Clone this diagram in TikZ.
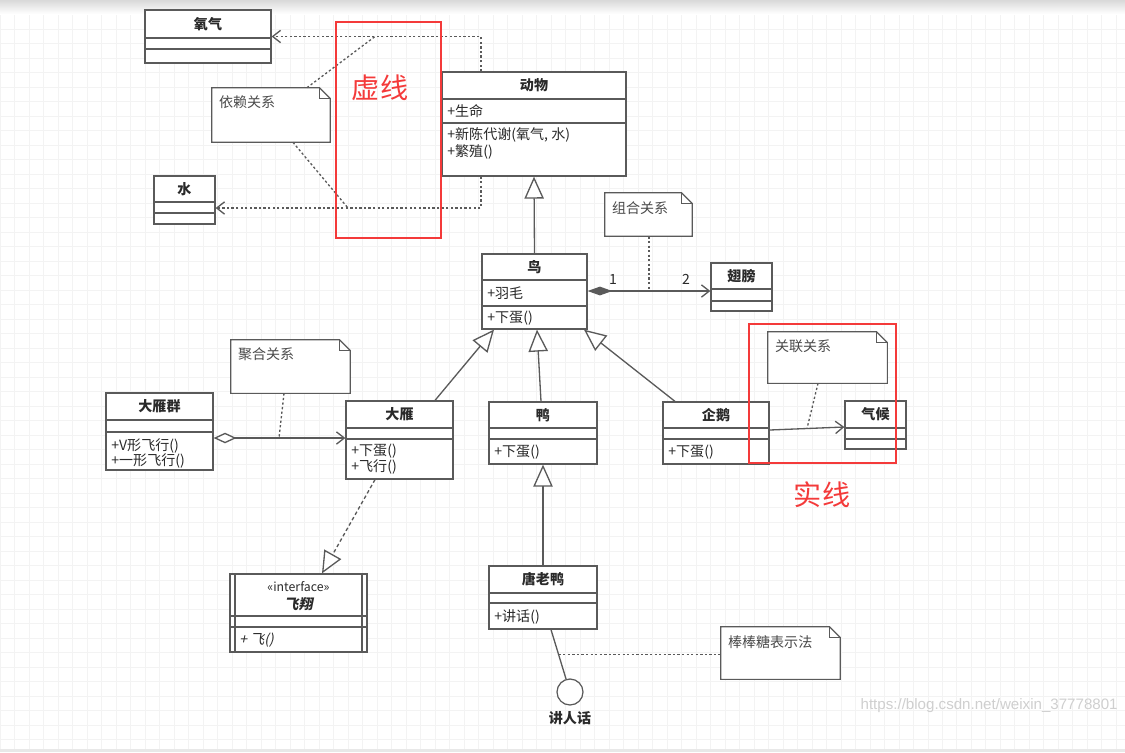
\documentclass[tikz,border=0pt]{standalone}
\usepackage{fontspec}
\setmainfont{Noto Sans CJK SC}
\newfontfamily\cjksl[FakeSlant=0.2]{Noto Sans CJK SC}
\newfontfamily\wmfont{Liberation Sans}
\usetikzlibrary{arrows.meta,calc,fit,shadows}
\definecolor{linec}{HTML}{5A5A5A}
\definecolor{txtc}{HTML}{2A2A2A}
\definecolor{notetxt}{HTML}{4A4A4A}
\definecolor{redc}{HTML}{F43A3A}
\definecolor{gridc}{HTML}{F3F3F3}

\newcommand\umlcls[8]{%
  \node[clsbox, fit={(#2,#3) (#4,#5)}] (#1) {};
  \draw[clsline] (#2,#6) -- (#4,#6) (#2,#7) -- (#4,#7);
  \node[clstitle] (#1-t) at ($(#2,#3)!0.5!(#4,#6)$) {#8};
}
\newcommand\umlnote[6]{%
  \node[inner sep=0pt, fit={(#2,#3) (#4,#5)}] (#1) {};
  \draw[notebox] (#1.north west) -- ([xshift=-0.22cm]#1.north east) -- ([yshift=-0.22cm]#1.north east) -- (#1.south east) -- (#1.south west) -- cycle;
  \draw[notebox, fill=none] ([xshift=-0.22cm]#1.north east) |- ([yshift=-0.22cm]#1.north east);
  \node[notetext] (#1-t) at ([xshift=0.14cm,yshift=-0.3cm]#1.north west) {#6};
}

\begin{document}
\begin{tikzpicture}[x=0.02cm,y=-0.02cm,
  clsbox/.style={draw=linec, fill=white, line width=0.7pt, inner sep=0pt,
    drop shadow={shadow xshift=0.7pt, shadow yshift=-0.7pt, opacity=0.15, fill=black}},
  clsline/.style={draw=linec, line width=0.7pt},
  clstitle/.style={inner sep=0pt, text=txtc, font=\fontsize{8}{9}\selectfont\bfseries},
  mem/.style={anchor=west, inner sep=0pt, text=txtc, font=\fontsize{8}{9}\selectfont},
  notebox/.style={draw=linec, fill=white, line width=0.7pt},
  notetext/.style={anchor=west, inner sep=0pt, text=notetxt, font=\fontsize{8}{9}\selectfont},
  conn/.style={draw=linec, line width=0.75pt},
  dotl/.style={conn, dash pattern=on 1.3pt off 1.3pt},
  dep/.style={dotl, -{Straight Barb[length=4.5pt,width=7pt]}},
  notelink/.style={dotl},
  inh/.style={conn, -{Triangle[fill=white,length=12.5pt,width=11pt]}},
  real/.style={conn, dash pattern=on 2pt off 1.5pt, -{Triangle[fill=white,length=12.5pt,width=11pt]}},
  comp/.style={conn, {Diamond[length=14pt,width=5pt]}-{Straight Barb[length=4.5pt,width=7pt]}},
  aggr/.style={conn, {Diamond[fill=white,length=13pt,width=6pt]}-{Straight Barb[length=4.5pt,width=7pt]}},
  assoc/.style={conn, -{Straight Barb[length=4.5pt,width=7pt]}},
  mult/.style={inner sep=0pt, text=txtc, font=\fontsize{8}{9}\selectfont},
  redbox/.style={draw=redc, line width=1.1pt},
  redtext/.style={inner sep=0pt, text=redc, font=\fontsize{16}{18}\selectfont}
]
\useasboundingbox (0,0) rectangle (1125,752);
\fill[white] (0,0) rectangle (1125,752);
\draw[gridc, line width=0.35pt, step=0.29cm] (0,0) grid (1125,752);
\shade[top color=gray!30, bottom color=white] (0,0) rectangle (1125,14);
\fill[gray!18] (0,749) rectangle (1125,752);

% ---- classes ----
\umlcls{oxy}{145}{10}{271}{63}{38}{49}{氧气}
\umlcls{water}{154}{176}{215}{224}{202}{213}{水}
\umlcls{animal}{442}{72}{626}{176}{99}{123}{动物}
\node[mem] (animal-m1) at (447,111) {+生命};
\node[mem] (animal-m2) at (447,135) {+新陈代谢(氧气, 水)};
\node[mem] (animal-m3) at (447,152) {+繁殖()};

\umlcls{bird}{482}{254}{587}{329}{280}{306}{鸟}
\node[mem] (bird-m1) at (487,293) {+羽毛};
\node[mem] (bird-m2) at (487,318) {+下蛋()};

\umlcls{wing}{711}{263}{772}{311}{289}{301}{翅膀}

\umlcls{geese}{106}{393}{213}{470}{420}{432}{大雁群}
\node[mem] (geese-m1) at (111,446) {+V形飞行()};
\node[mem] (geese-m2) at (111,461) {+一形飞行()};

\umlcls{goose}{346}{401}{453}{479}{428}{439}{大雁}
\node[mem] (goose-m1) at (351,451) {+下蛋()};
\node[mem] (goose-m2) at (351,467) {+飞行()};

\umlcls{duck}{489}{402}{597}{464}{428}{439}{鸭}
\node[mem] (duck-m1) at (494,452) {+下蛋()};

\umlcls{peng}{663}{402}{769}{464}{428}{439}{企鹅}
\node[mem] (peng-m1) at (668,452) {+下蛋()};

\umlcls{clim}{845}{401}{906}{449}{428}{439}{气候}

\umlcls{tld}{489}{566}{597}{629}{593}{603}{唐老鸭}
\node[mem] (tld-m1) at (494,617) {+讲话()};

% interface
\node[clsbox, fit={(230,574) (367,652)}] (fly) {};
\draw[clsline] (230,616) -- (367,616) (230,627) -- (367,627)
  (235,574) -- (235,652) (362,574) -- (362,652);
\node[inner sep=0pt, text=txtc, font=\fontsize{7}{8}\selectfont] (fly-s) at (298.5,587) {«interface»};
\node[inner sep=0pt, text=txtc, font=\fontsize{8}{9}\selectfont\cjksl\bfseries] (fly-t) at (298.5,604) {飞翔};
\node[mem, font=\fontsize{8}{9}\selectfont\cjksl] (fly-m) at (239,640) {+ 飞()};

% ---- notes ----
\umlnote{dn}{212}{88}{330}{142}{依赖关系}
\umlnote{cn}{605}{193}{692}{236}{组合关系}
\umlnote{an}{231}{340}{350}{393}{聚合关系}
\umlnote{asn}{768}{332}{887}{383}{关联关系}
\umlnote{bn}{721}{627}{840}{679}{棒棒糖表示法}

% ---- dependencies ----
\draw[dep] (animal.north -| 481,0) |- (oxy.east);
\draw[dep] (animal.south -| 481,0) |- (water.east |- 0,208);
\coordinate (d1) at (375,36.5);
\coordinate (d2) at (348,208);
\draw[notelink] (dn.north -| 307,0) -- (d1);
\draw[notelink] (dn.south -| 293,0) -- (d2);

% ---- generalization ----
\draw[inh] (bird.north) -- (animal.south);
\draw[inh] (goose.north -| 435,0) -- (bird.south -| 494,0);
\draw[inh] (duck.north -| 541,0) -- (bird.south -| 537,0);
\draw[inh] (peng.north -| 675,0) -- (bird.south -| 584,0);
\draw[inh] (tld.north) -- (duck.south);
\draw[real] (goose.south -| 375,0) -- (fly.north -| 322,0);

% ---- composition ----
\draw[comp] (bird.east |- 0,291) -- (wing.west |- 0,291);
\node[mult] (m1) at (613,279) {1};
\node[mult] (m2) at (686,279) {2};
\coordinate (c1) at (649,291);
\draw[notelink] (cn.south -| 649,0) -- (c1);

% ---- aggregation ----
\draw[aggr] (geese.east |- 0,438) -- (goose.west |- 0,438);
\coordinate (g1) at (279,438);
\draw[notelink] (an.south -| 284,0) -- (g1);

% ---- association ----
\draw[assoc] (peng.east |- 0,430) -- (clim.west |- 0,427);
\coordinate (s1) at (807,428.5);
\draw[notelink] (asn.south -| 818,0) -- (s1);

% ---- lollipop ----
\node[circle, draw=linec, fill=white, line width=0.7pt, minimum size=0.52cm, inner sep=0pt] (lol) at (570,692) {};
\draw[conn] (tld.south -| 551,0) -- (lol);
\coordinate (lp) at ($(tld.south -| 551,0)!0.4!(lol)$);
\draw[notelink] (lp) -- (lp -| bn.west);
\node[clstitle] (lolt) at (570,718) {讲人话};

% ---- red annotations ----
\draw[redbox] (336,22) rectangle (441,238);
\node[redtext] (rt1) at (380,88) {虚线};
\draw[redbox] (749,324) rectangle (896,463);
\node[redtext] (rt2) at (822,495) {实线};

% ---- watermark ----
\node[anchor=east, inner sep=0pt, text=gray!38, font=\wmfont\fontsize{8.6}{10}\selectfont] (wm) at (1118,706) {https://blog.csdn.net/weixin\_37778801};
\end{tikzpicture}
\end{document}
